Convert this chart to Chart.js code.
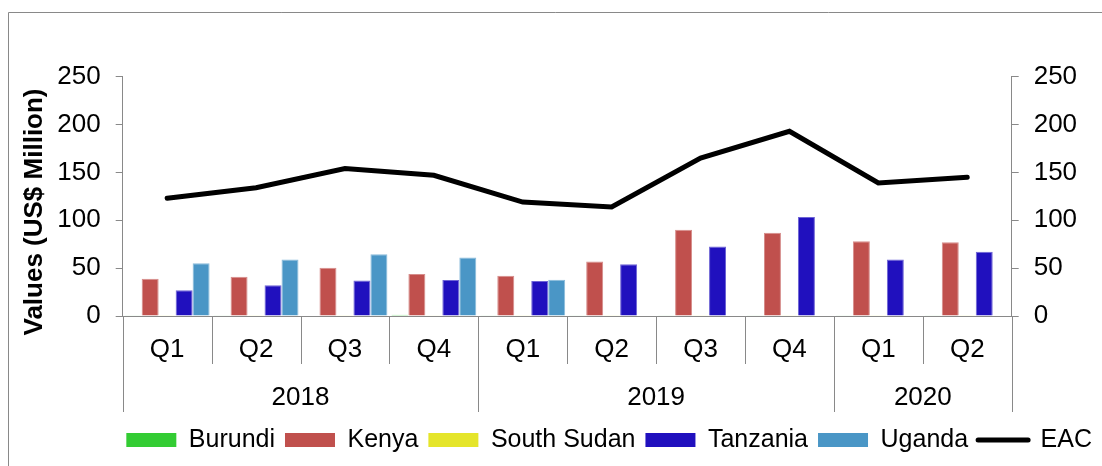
<!DOCTYPE html>
<html>
<head>
<meta charset="utf-8">
<script src="https://cdn.jsdelivr.net/npm/chart.js@4/dist/chart.umd.min.js"></script>
<style>
  html, body { margin: 0; padding: 0; background: #ffffff; }
  #wrap { width: 1102px; height: 466px; }
</style>
</head>
<body>
<div id="wrap"><canvas id="c" width="1102" height="466"></canvas></div>
<script>
// ---- data ----
const quarters = ['Q1', 'Q2', 'Q3', 'Q4', 'Q1', 'Q2', 'Q3', 'Q4', 'Q1', 'Q2'];
const years = ['2018', '2019', '2020'];
const quartersPerYear = [4, 4, 2];
const burundi = [0.3, 0.3, 0.4, 1.2, 0.3, 0.3, 0.3, 0.3, 0.3, 0.3];
const kenya = [39, 41, 50.5, 44, 42, 57, 90, 87, 78, 77];
const southSudan = [0.2, 0.2, 0.2, 0.3, 0.2, 0.2, 0.2, 0.2, 0.2, 0.2];
const tanzania = [27, 32, 37, 37.5, 36.5, 54, 72.5, 103.5, 59, 67];
const uganda = [55, 59, 64.5, 61, 38, 0.6, null, null, null, null];
const eac = [123, 134, 154, 147, 119, 114, 165, 193, 139, 145];
const yTicks = [0, 50, 100, 150, 200, 250];
const yTitle = 'Values (US$ Million)';

const FONT = "'Liberation Sans', Arial, sans-serif";
const GRAY = '#898989';
Chart.defaults.font.family = FONT;
Chart.defaults.color = '#000000';

const framePlugin = {
  id: 'frame',
  beforeDraw(chart) {
    const ctx = chart.ctx;
    ctx.save();
    ctx.fillStyle = '#ffffff';
    ctx.fillRect(0, 0, chart.width, chart.height);
    ctx.strokeStyle = GRAY;
    ctx.lineWidth = 1;
    ctx.beginPath();
    ctx.moveTo(8.5, chart.height);
    ctx.lineTo(8.5, 12.5);
    ctx.lineTo(chart.width, 12.5);
    ctx.stroke();
    ctx.restore();
  }
};

const axisPlugin = {
  id: 'multiAxis',
  afterDraw(chart) {
    const ctx = chart.ctx;
    const xs = chart.scales.x;
    const n = quarters.length;
    const centers = quarters.map((q, i) => xs.getPixelForValue(i));
    const step = centers[1] - centers[0];
    const bounds = [];
    for (let k = 0; k <= n; k++) bounds.push(centers[0] - step / 2 + k * step);
    const yearBounds = [0];
    quartersPerYear.forEach((c, i) => yearBounds.push(yearBounds[i] + c));
    const y0 = xs.top;
    ctx.save();
    ctx.strokeStyle = GRAY;
    ctx.lineWidth = 1;
    bounds.forEach((bx, k) => {
      const isYear = yearBounds.includes(k);
      const px = Math.round(bx) + 0.5;
      ctx.beginPath();
      ctx.moveTo(px, y0);
      ctx.lineTo(px, y0 + (isYear ? 96 : 48));
      ctx.stroke();
    });
    ctx.fillStyle = '#000000';
    ctx.textAlign = 'center';
    ctx.textBaseline = 'alphabetic';
    ctx.font = '26px ' + FONT;
    quarters.forEach((q, i) => ctx.fillText(q, centers[i], y0 + 41));
    years.forEach((yr, i) => {
      const cx = (bounds[yearBounds[i]] + bounds[yearBounds[i + 1]]) / 2;
      ctx.fillText(yr, cx, y0 + 89);
    });
    // y axis title
    ctx.font = 'bold 26px ' + FONT;
    ctx.translate(42, 212);
    ctx.rotate(-Math.PI / 2);
    ctx.fillText(yTitle, 0, 0);
    ctx.restore();
  }
};

const tint = (hex, f) => {
  const r = parseInt(hex.slice(1, 3), 16), g = parseInt(hex.slice(3, 5), 16), b = parseInt(hex.slice(5, 7), 16);
  const m = v => Math.round(v + (255 - v) * f);
  return `rgb(${m(r)},${m(g)},${m(b)})`;
};
const barDs = (label, data, color) => ({
  type: 'bar', label, data, backgroundColor: color, borderColor: tint(color, 0.35), borderWidth: 1,
  yAxisID: 'y', categoryPercentage: 0.955, barPercentage: 1.0
});

const yAxisCommon = {
  min: 0, max: 250,
  afterBuildTicks: s => { s.ticks = yTicks.map(v => ({ value: v })); },
  grid: { drawOnChartArea: false, color: GRAY, tickLength: 7, tickColor: GRAY },
  border: { color: GRAY },
  ticks: { font: { size: 26 }, color: '#000000', padding: 15 }
};

new Chart(document.getElementById('c'), {
  data: {
    labels: quarters,
    datasets: [
      barDs('Burundi', burundi, '#33CC33'),
      barDs('Kenya', kenya, '#C0504D'),
      barDs('South Sudan', southSudan, '#E5E52A'),
      barDs('Tanzania', tanzania, '#2010BE'),
      barDs('Uganda', uganda, '#4A96C6'),
      {
        type: 'line', label: 'EAC', data: eac, borderColor: '#000000', backgroundColor: '#000000',
        borderWidth: 5, pointRadius: 0, tension: 0, yAxisID: 'y',
        borderCapStyle: 'round', borderJoinStyle: 'miter'
      }
    ]
  },
  options: {
    responsive: false,
    animation: false,
    devicePixelRatio: 1,
    layout: { padding: { top: 76.7, bottom: 3.5, left: 0, right: 0 } },
    plugins: {
      tooltip: { enabled: false },
      legend: {
        position: 'bottom',
        align: 'end',
        labels: {
          font: { size: 25 },
          color: '#000000',
          padding: 10,
          boxWidth: 50,
          boxHeight: 14,
          usePointStyle: true,
          pointStyleWidth: 50,
          generateLabels(chart) {
            const items = Chart.defaults.plugins.legend.labels.generateLabels(chart);
            items.forEach(it => {
              const ds = chart.data.datasets[it.datasetIndex];
              if (ds.type === 'line') {
                it.pointStyle = 'line';
                it.lineWidth = 5;
                it.strokeStyle = '#000000';
                it.lineCap = 'round';
              } else {
                it.pointStyle = 'rect';
                it.lineWidth = 0;
                it.fillStyle = ds.backgroundColor;
                it.strokeStyle = ds.backgroundColor;
              }
            });
            return items;
          }
        }
      }
    },
    scales: {
      x: {
        type: 'category',
        offset: true,
        grid: { display: false },
        border: { display: true, color: GRAY },
        ticks: { display: false },
        afterFit: s => { s.height = 101.5; }
      },
      y: Object.assign({ position: 'left', afterFit: s => { s.width = 122.7; } }, yAxisCommon),
      y2: Object.assign({ position: 'right', afterFit: s => { s.width = 90.3; } }, yAxisCommon)
    }
  },
  plugins: [framePlugin, axisPlugin]
});
</script>
</body>
</html>
